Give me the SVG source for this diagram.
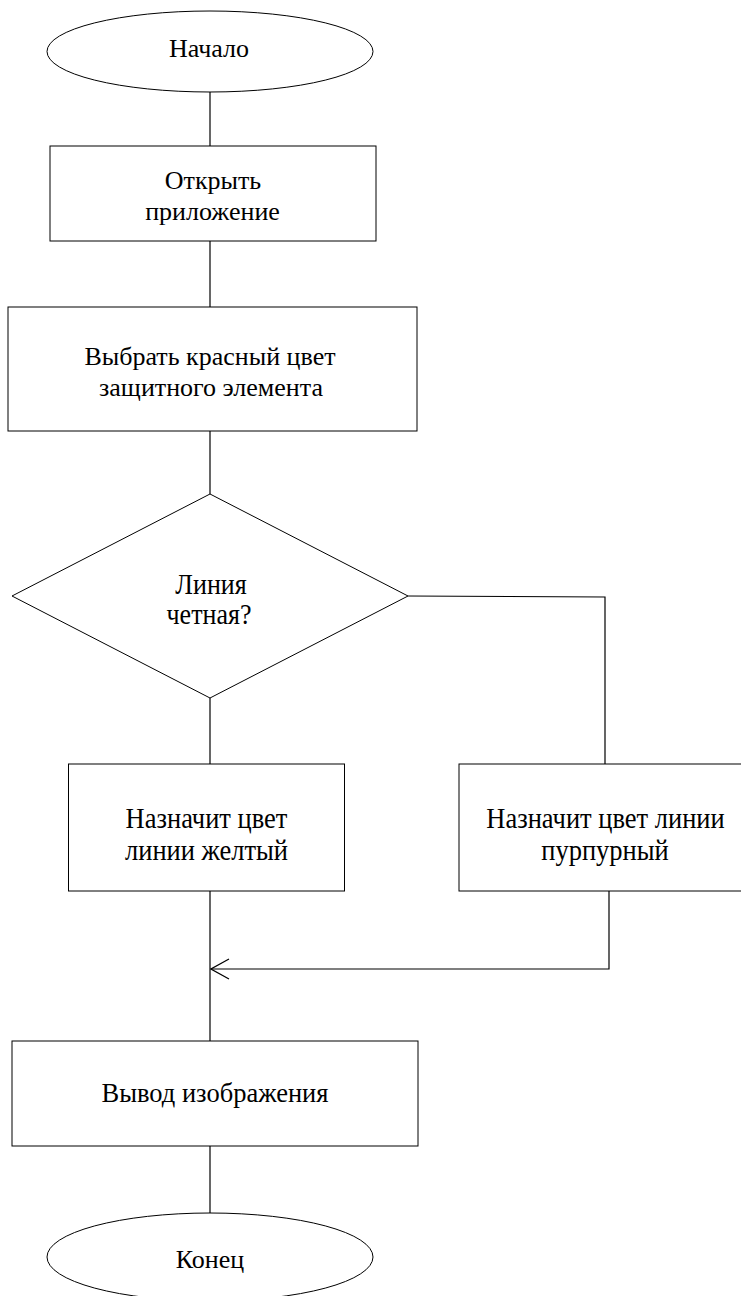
<svg xmlns="http://www.w3.org/2000/svg" width="741" height="1296" viewBox="0 0 741 1296">
<defs>
<style>
.s{fill:#fff;stroke:#000;stroke-width:1}
.c{fill:none;stroke:#000;stroke-width:1.2}
</style>
<marker id="ah" markerWidth="20" markerHeight="22" refX="19" refY="11" orient="auto" markerUnits="userSpaceOnUse">
<path d="M1,1 L19,11 L1,21" fill="none" stroke="#000" stroke-width="1.2"/>
</marker>
</defs>
<g id="connectors">
<line class="c" x1="210" y1="92" x2="210" y2="146"/>
<line class="c" x1="210" y1="241" x2="210" y2="307"/>
<line class="c" x1="210" y1="431" x2="210" y2="494"/>
<polyline class="c" points="408,596 605,597 605,764"/>
<line class="c" x1="210" y1="698" x2="210" y2="764"/>
<line class="c" x1="210" y1="891" x2="210" y2="1041"/>
<polyline class="c" points="609,891 609,969 211,969" marker-end="url(#ah)"/>
<line class="c" x1="210" y1="1146" x2="210" y2="1213"/>
</g>
<g font-family="Liberation Serif, Times New Roman, DejaVu Serif, serif" font-size="26" fill="#000" text-anchor="middle">
<g id="start">
<ellipse class="s" cx="210" cy="51.5" rx="163" ry="40.5"/>
<text x="209" y="57">Начало</text>
</g>
<g id="open">
<rect class="s" x="50" y="146" width="326" height="95"/>
<text x="213" y="189">Открыть</text>
<text x="212.5" y="220">приложение</text>
</g>
<g id="choose">
<rect class="s" x="8" y="307" width="409" height="124"/>
<text x="210" y="365">Выбрать красный цвет</text>
<text x="211" y="396">защитного элемента</text>
</g>
<g id="decision">
<polygon class="s" points="210,494 408,596 210,698 12,596"/>
<text transform="translate(211,594) scale(1,1.1)" x="0" y="0">Линия</text>
<text transform="translate(209,624) scale(1,1.1)" x="0" y="0">четная?</text>
</g>
<g id="yellow">
<rect class="s" x="68.5" y="764" width="276" height="127"/>
<text transform="translate(206.5,828) scale(1,1.15)" x="0" y="0" font-size="26.5">Назначит цвет</text>
<text transform="translate(206.5,860) scale(1,1.15)" x="0" y="0" font-size="26.5">линии желтый</text>
</g>
<g id="purple">
<rect class="s" x="459" y="764" width="290" height="127"/>
<text transform="translate(605.5,828) scale(1,1.15)" x="0" y="0" font-size="26.5">Назначит цвет линии</text>
<text transform="translate(605,860) scale(1,1.15)" x="0" y="0" font-size="26.5">пурпурный</text>
</g>
<g id="output">
<rect class="s" x="12" y="1041" width="406" height="105"/>
<text x="215" y="1102" font-size="26.5">Вывод изображения</text>
</g>
<g id="end">
<ellipse class="s" cx="210" cy="1257" rx="163" ry="44"/>
<text x="210" y="1268">Конец</text>
</g>
</g>
</svg>
